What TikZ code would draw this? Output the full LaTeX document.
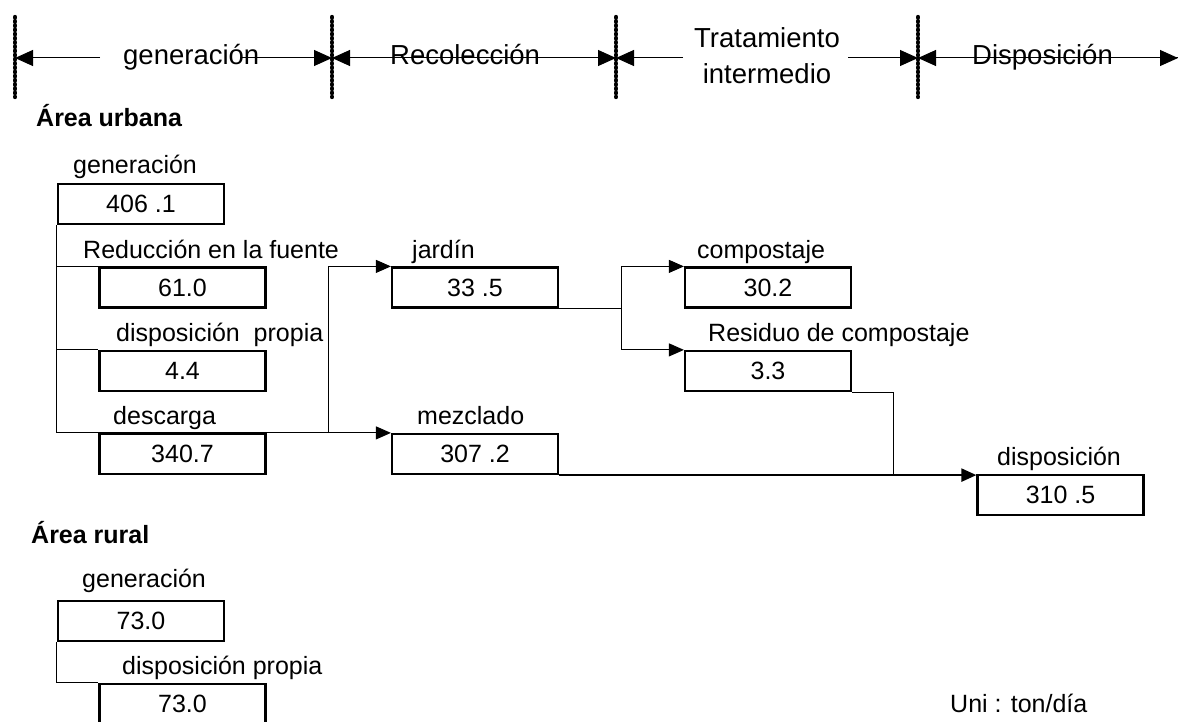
\documentclass[tikz,border=0pt]{standalone}
\usepackage{fontspec}
\setmainfont{Liberation Sans}
\usetikzlibrary{arrows.meta}

\begin{document}
\begin{tikzpicture}[x=1pt, y=-1pt,
  valbox/.style={draw, rectangle, line width=2.2pt, minimum width=166pt,
    minimum height=40pt, inner sep=0pt, font=\fontsize{25}{30}\selectfont},
  lbl/.style={inner sep=0pt, anchor=base west, font=\fontsize{25}{30}\selectfont},
  areatitle/.style={inner sep=0pt, anchor=base west, font=\bfseries\fontsize{25}{30}\selectfont},
  stage/.style={inner sep=0pt, anchor=base west, font=\fontsize{27.5}{36}\selectfont},
  thinline/.style={line width=1pt},
  flow/.style={line width=1pt, -{Triangle[length=15pt,width=13pt]}},
  span/.style={line width=1pt, -{Triangle[length=18pt,width=16pt]}},
  divider/.style={line width=4.4pt, line cap=round, dash pattern=on 0.6pt off 3.6pt}
]
  \useasboundingbox (0,0) rectangle (1180,722);

  % stage dividers
  \coordinate (s0) at (15,58);
  \coordinate (s1) at (332,58);
  \coordinate (s2) at (616,58);
  \coordinate (s3) at (918,58);
  \coordinate (s4) at (1178,58);
  \foreach \x in {15,332,616,918}
    \draw[divider] (\x,17) -- (\x,97);

  % stage headings
  \node[stage] (hgen)  at (123,65)  {generación};
  \node[stage] (hrec)  at (390,65)  {Recolección};
  \node[stage, anchor=center, align=center] (htrat) at (767,55.5) {Tratamiento\\intermedio};
  \node[stage] (hdisp) at (972,65)  {Disposición};

  \coordinate (g1) at (100,58);
  \coordinate (g2) at (240,58);
  \coordinate (t1) at (683,58);
  \coordinate (t2) at (848,58);
  \draw[span] (g1) -- (s0);
  \draw[span] (g2) -- (s1);
  \draw[span] (s2) -- (s1);
  \draw[span] (s1) -- (s2);
  \draw[span] (t1) -- (s2);
  \draw[span] (t2) -- (s3);
  \draw[span] (s4) -- (s3);
  \draw[span] (s3) -- (s4);

  % urban area
  \node[areatitle] (urb) at (36,127) {Área urbana};

  \node[valbox] (gen)   at (141,204)   {406 .1};
  \node[valbox] (red)   at (182.5,287.5) {61.0};
  \node[valbox] (prop)  at (182.5,371) {4.4};
  \node[valbox] (desc)  at (182.5,454) {340.7};
  \node[valbox] (jard)  at (475,287.5) {33 .5};
  \node[valbox] (mezc)  at (475,454)   {307 .2};
  \node[valbox] (comp)  at (768,287.5) {30.2};
  \node[valbox] (resid) at (768,371)   {3.3};
  \node[valbox] (disp)  at (1060.5,495) {310 .5};

  \node[lbl] (lgen)   at (73,174)  {generación};
  \node[lbl] (lred)   at (83,258)  {Reducción en la fuente};
  \node[lbl] (lprop)  at (116,341) {disposición\ \ propia};
  \node[lbl] (ldesc)  at (113,424) {descarga};
  \node[lbl] (ljard)  at (412,258) {jardín};
  \node[lbl] (lmezc)  at (417,424) {mezclado};
  \node[lbl] (lcomp)  at (697,258) {compostaje};
  \node[lbl] (lresid) at (708,341) {Residuo de compostaje};
  \node[lbl] (ldisp)  at (997,465) {disposición};

  \coordinate (split) at (328,433);
  \coordinate (fx) at (621,0);
  \coordinate (jx) at (893,0);
  \coordinate (fork)  at (jard.south east -| fx);
  \coordinate (join)  at (mezc.south east -| jx);

  \draw[thinline] (gen.south west) -- (gen.south west |- desc.north);
  \draw[thinline] (gen.south west |- red.north) -- (red.north west);
  \draw[thinline] (gen.south west |- prop.north) -- (prop.north west);
  \draw[flow] (gen.south west |- desc.north) -- (mezc.north west);
  \draw[flow] (split) |- (jard.north west);
  \draw[thinline] (jard.south east) -- (fork);
  \draw[flow] (fork) |- (comp.north west);
  \draw[flow] (fork) |- (resid.north west);
  \draw[thinline] (resid.south east) -| (join);
  \draw[flow, line width=2.2pt] (mezc.south east) -- (mezc.south east -| disp.west);

  % rural area
  \node[areatitle] (rur) at (31,543) {Área rural};

  \node[valbox] (rgen)  at (141,621)   {73.0};
  \node[valbox] (rprop) at (182.5,704) {73.0};
  \node[lbl] (lrgen)  at (82,587)  {generación};
  \node[lbl] (lrprop) at (122,674) {disposición propia};
  \draw[thinline] (rgen.south west) |- (rprop.north west);

  \node[lbl] (unit) at (950,712) {Uni : ton/día};
\end{tikzpicture}
\end{document}
